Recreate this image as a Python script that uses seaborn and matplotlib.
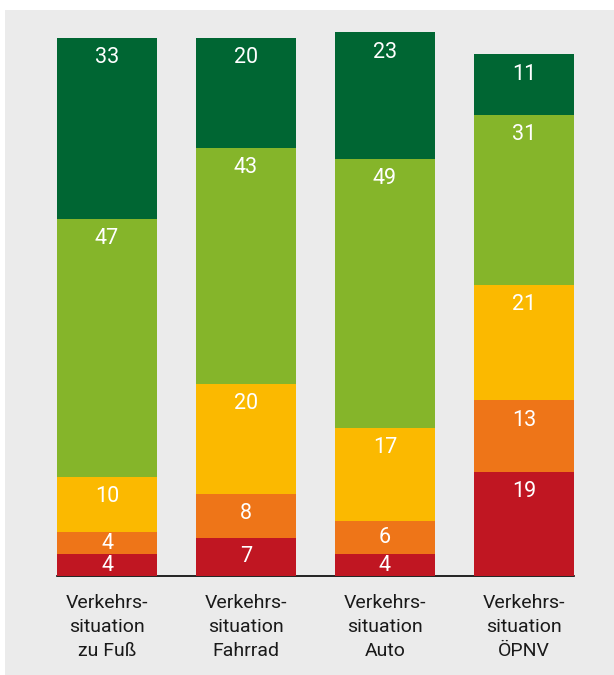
import matplotlib
matplotlib.use("Agg")
import matplotlib.pyplot as plt
from matplotlib.patches import Rectangle
import numpy as np
import pandas as pd
import seaborn as sns

# data, bottom to top of each bar
categories = ["Verkehrs-\nsituation\nzu Fuß", "Verkehrs-\nsituation\nFahrrad",
              "Verkehrs-\nsituation\nAuto", "Verkehrs-\nsituation\nÖPNV"]
red = [4, 7, 4, 19]
orange = [4, 8, 6, 13]
yellow = [10, 20, 17, 21]
light_green = [47, 43, 49, 31]
dark_green = [33, 20, 23, 11]

layers = [red, orange, yellow, light_green, dark_green]
colors = ["#c01622", "#ee7518", "#fbb900", "#85b52a", "#006633"]

sns.set_theme(style="white")
plt.rcParams["font.family"] = ["Roboto", "DejaVu Sans"]

fig = plt.figure(figsize=(6.14, 6.75), dpi=100)
fig.add_artist(Rectangle((5 / 614, 0), 1, (675 - 10) / 675, transform=fig.transFigure,
                         facecolor="#ebebeb", edgecolor="none", zorder=0))
ax = fig.add_axes([57 / 614, 99 / 675, 517 / 614, 556 / 675])
ax.set_facecolor("none")

df = pd.DataFrame({"cat": categories})
bottom = np.zeros(len(categories))
for vals, col in zip(layers, colors):
    df["v"] = vals
    sns.barplot(data=df, x="cat", y="v", bottom=bottom, color=col, saturation=1,
                width=0.72, errorbar=None, linewidth=0, ax=ax, zorder=2)
    for i, v in enumerate(vals):
        top = bottom[i] + v
        y = top - min(3.6, v / 2)
        ax.text(i, y, str(v), ha="center", va="center", color="white",
                fontsize=15.5, zorder=3)
    bottom = bottom + np.array(vals)

ax.set_xlim(-0.36, 3.36)
ax.set_ylim(0, 556 / 5.49)
ax.set_xlabel("")
ax.set_ylabel("")
ax.set_yticks([])
for s in ["top", "right", "left"]:
    ax.spines[s].set_visible(False)
ax.spines["bottom"].set_color("black")
ax.spines["bottom"].set_linewidth(1.2)
ax.spines["bottom"].set_zorder(1)
ax.tick_params(axis="x", length=0, pad=13, labelsize=14, labelcolor="#1a1a1a")
for t in ax.get_xticklabels():
    t.set_linespacing(1.42)

fig.savefig("out.png", dpi=100)
